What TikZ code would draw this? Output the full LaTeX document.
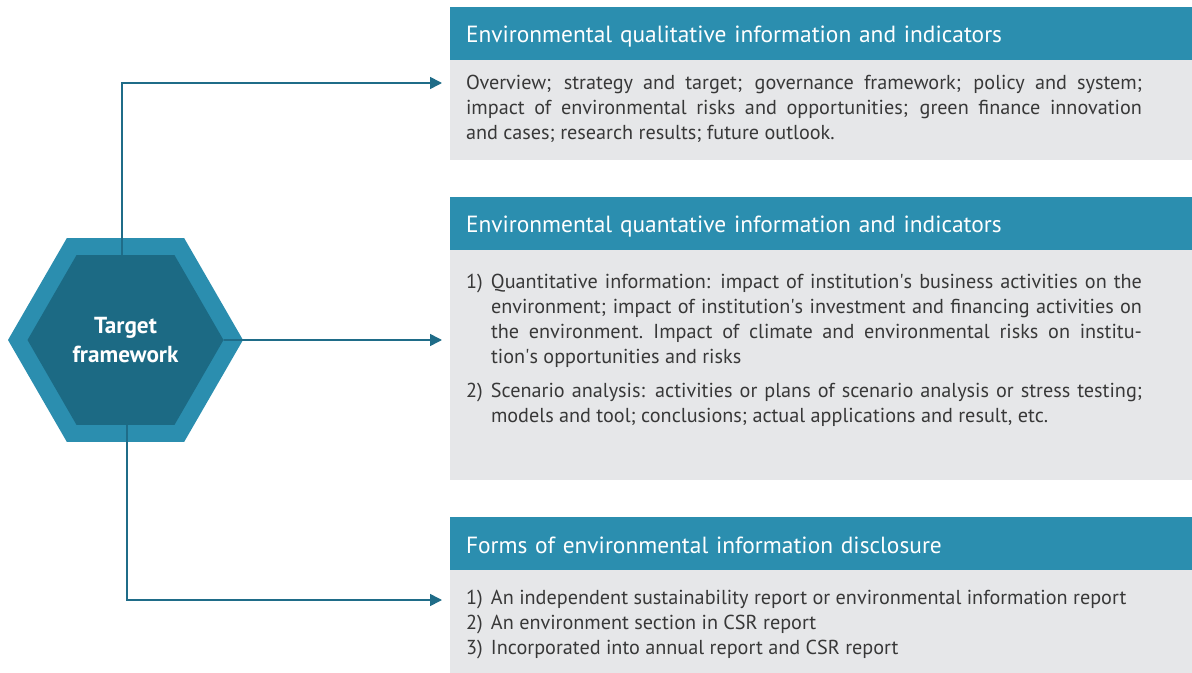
\documentclass[tikz,border=0pt]{standalone}
\usepackage{fontspec}
\setmainfont{PT Sans}
\usetikzlibrary{positioning,arrows.meta,shapes.geometric}
\definecolor{headteal}{HTML}{2B8EAF}
\definecolor{hexdark}{HTML}{1C6A84}
\definecolor{linkteal}{HTML}{1F6C88}
\definecolor{boxgray}{HTML}{E6E7E9}
\definecolor{bodytext}{HTML}{383838}
\newcommand{\itemno}[1]{\noindent\hangindent=12.5pt\hangafter=1\makebox[12.5pt][l]{#1}}
\newcommand{\bodytxt}[2]{\parbox[t][#1][t]{338pt}{\rightskip=0pt\relax
  \spaceskip=\fontdimen2\font plus 0.8\fontdimen2\font minus 0.3\fontdimen2\font\relax #2}}
\tikzset{
  headbox/.style={fill=headteal, text=white, anchor=north west, minimum width=371pt,
    minimum height=26.5pt, text width=355pt, text height=12pt, text depth=2.5pt,
    inner xsep=8pt, inner ysep=0pt, outer sep=0pt,
    align=left, font=\fontsize{11.7}{14}\selectfont},
  bodybox/.style={fill=boxgray, text=bodytext, minimum width=371pt, text width=355pt,
    inner xsep=8pt, outer sep=0pt, font=\fontsize{10.1}{12.5}\selectfont},
  hexbox/.style={regular polygon, regular polygon sides=6, inner sep=0pt, outer sep=0pt},
  link/.style={linkteal, line width=0.8pt, -{Triangle[length=6pt,width=6pt]}},
}
\begin{document}
\begin{tikzpicture}[x=0.5pt,y=-0.5pt]
\useasboundingbox (0,0) rectangle (1192,673);
%target hexagon
\node[hexbox, fill=headteal, minimum size=117.5pt] (hexout) at (125.5,340) {};
\node[hexbox, fill=hexdark, minimum size=98pt, text=white, align=center,
  font=\fontsize{11.6}{14.5}\selectfont\bfseries] (hexin) at (hexout.center) {Target\\framework};
%qualitative
\node[headbox] (head1) at (450,7) {Environmental qualitative information and indicators};
\node[bodybox, inner ysep=7.5pt, below=0pt of head1] (body1) {\bodytxt{35pt}{%
Overview; strategy and target; governance framework; policy and system;\linebreak
impact of environmental risks and opportunities; green finance innovation\linebreak
and cases; research results; future outlook.}};
%quantative
\node[headbox] (head2) at (450,197) {Environmental quantative information and indicators};
\node[bodybox, inner ysep=12pt, below=0pt of head2] (body2) {\bodytxt{91pt}{%
\itemno{1)}Quantitative information: impact of institution\textquotesingle s business activities on the\linebreak
environment; impact of institution\textquotesingle s investment and financing activities on\linebreak
the environment. Impact of climate and environmental risks on institu-\linebreak
tion\textquotesingle s opportunities and risks\par\vspace{4.5pt}
\itemno{2)}Scenario analysis: activities or plans of scenario analysis or stress testing;\linebreak
models and tool; conclusions; actual applications and result, etc.}};
%forms
\node[headbox] (head3) at (450,517) {Forms of environmental information disclosure};
\node[bodybox, inner ysep=10pt, below=0pt of head3] (body3) {\bodytxt{31.5pt}{%
\itemno{1)}An independent sustainability report or environmental information report\par
\itemno{2)}An environment section in CSR report\par
\itemno{3)}Incorporated into annual report and CSR report}};
%connectors
\coordinate (tip1) at (442,83);
\coordinate (tip2) at (442,340);
\coordinate (tip3) at (442,600);
\draw[link] ([xshift=-1.75pt]hexin.north) |- (tip1);
\draw[link] (hexin.east) -- (tip2);
\draw[link] ([xshift=0.75pt]hexin.south) |- (tip3);
\end{tikzpicture}
\end{document}
